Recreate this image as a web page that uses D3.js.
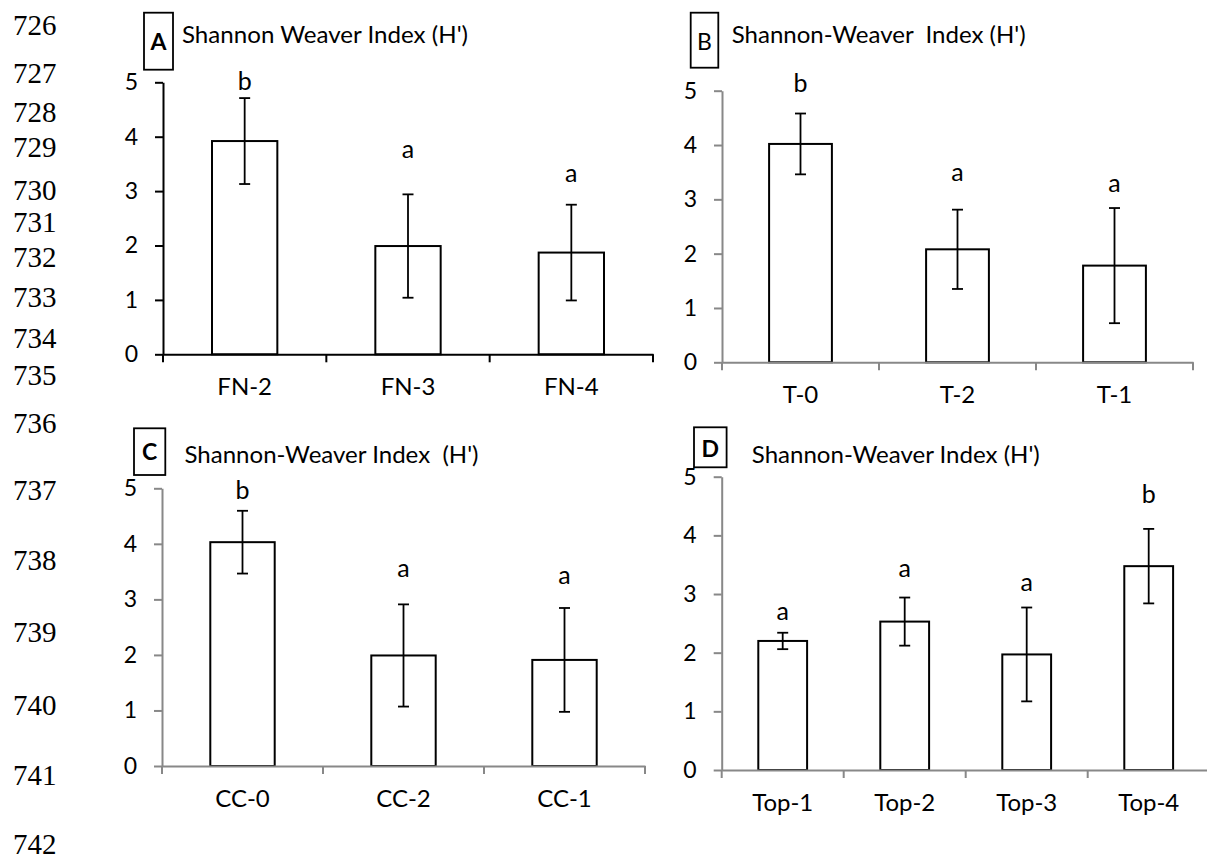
<!DOCTYPE html>
<html><head><meta charset="utf-8">
<script src="https://cdn.jsdelivr.net/npm/d3@7"></script>
<style>
body{margin:0;background:#fff}
svg{display:block}
text{font-family:Lato,"Open Sans",sans-serif}
</style>
</head><body>
<svg id="chart" width="1207" height="859"></svg>
<script>
// ---------- data ----------
const lineNumbers = [726,727,728,729,730,731,732,733,734,735,736,737,738,739,740,741,742];
const yTicks = [0,1,2,3,4,5];

const catsA = ["FN-2","FN-3","FN-4"];
const meanA = [3.92,1.99,1.87];
const errA  = [0.79,0.95,0.88];
const lettersA = ["b","a","a"];
const letterAtA = [4.86,3.60,3.17];
const titleA = "Shannon Weaver Index (H')";

const catsB = ["T-0","T-2","T-1"];
const meanB = [4.02,2.08,1.78];
const errB  = [0.56,0.73,1.06];
const lettersB = ["b","a","a"];
const letterAtB = [4.97,3.33,3.14];
const titleB = "Shannon-Weaver  Index (H')";

const catsC = ["CC-0","CC-2","CC-1"];
const meanC = [4.03,1.99,1.91];
const errC  = [0.565,0.92,0.935];
const lettersC = ["b","a","a"];
const letterAtC = [4.81,3.41,3.28];
const titleC = "Shannon-Weaver Index  (H')";

const catsD = ["Top-1","Top-2","Top-3","Top-4"];
const meanD = [2.20,2.53,1.97,3.475];
const errD  = [0.14,0.41,0.80,0.635];
const lettersD = ["a","a","a","b"];
const letterAtD = [2.56,3.29,3.06,4.56];
const titleD = "Shannon-Weaver Index (H')";

// ---------- layout ----------
const lineNumberY = [35,83,122,157,200,232,267,307,348,385,433,500,570,642,715,785,854];

const panels = [
  {tag:"A", bold:true, cats:catsA, mean:meanA, err:errA, letters:lettersA, letterAt:letterAtA, title:titleA,
   x0:163, x1:653, yt:82.3, yb:354.3, axis:"#000", box:[144,12.7,29,57], tagX:158.5, tagY:50,
   titleX:182, titleY:43.3, titleW:286},
  {tag:"B", bold:false, cats:catsB, mean:meanB, err:errB, letters:lettersB, letterAt:letterAtB, title:titleB,
   x0:722, x1:1193, yt:90.7, yb:362.3, axis:"#888", box:[690.7,12.7,27.6,55], tagX:704.5, tagY:50,
   titleX:731.7, titleY:43.3, titleW:294},
  {tag:"C", bold:true, cats:catsC, mean:meanC, err:errC, letters:lettersC, letterAt:letterAtC, title:titleC,
   x0:162, x1:645, yt:488.3, yb:766, axis:"#888", box:[134,428.3,31.3,46.7], tagX:149.6, tagY:460,
   titleX:184.5, titleY:463.3, titleW:294},
  {tag:"D", bold:true, cats:catsD, mean:meanD, err:errD, letters:lettersD, letterAt:letterAtD, title:titleD,
   x0:721.7, x1:1209.7, yt:476.7, yb:770, axis:"#888", box:[694,427.3,32.6,40], tagX:710.3, tagY:456.7,
   titleX:751.8, titleY:462.7, titleW:288}
];

const svg = d3.select("#chart");
svg.append("rect").attr("width",1207).attr("height",859).attr("fill","#fff");

// line numbers
svg.append("g").selectAll("text").data(lineNumbers).join("text")
  .attr("x",13).attr("y",(d,i)=>lineNumberY[i])
  .style("font-family","'Liberation Serif','Times New Roman',serif")
  .style("font-size","29px").attr("fill","#000")
  .text(d=>d);

const FS = 23;

panels.forEach(p=>{
  const g = svg.append("g");
  const x = d3.scaleBand().domain(p.cats).range([p.x0,p.x1]).padding(0);
  const y = d3.scaleLinear().domain([0,5]).range([p.yb,p.yt]);
  const bw = x.bandwidth()*0.4;
  const cx = d => x(d)+x.bandwidth()/2;

  // bars
  g.selectAll("rect.bar").data(p.cats).join("rect").attr("class","bar")
    .attr("x",d=>cx(d)-bw/2).attr("width",bw)
    .attr("y",(d,i)=>y(p.mean[i])).attr("height",(d,i)=>y(0)-y(p.mean[i]))
    .attr("fill","#fff").attr("stroke","#000").attr("stroke-width",2);

  // error bars
  const eb = g.selectAll("g.err").data(p.cats).join("g").attr("class","err")
    .attr("stroke","#000").attr("stroke-width",1.8);
  eb.append("line").attr("x1",cx).attr("x2",cx)
    .attr("y1",(d,i)=>y(p.mean[i]+p.err[i])).attr("y2",(d,i)=>y(p.mean[i]-p.err[i]));
  eb.append("line").attr("x1",d=>cx(d)-5.5).attr("x2",d=>cx(d)+5.5)
    .attr("y1",(d,i)=>y(p.mean[i]+p.err[i])).attr("y2",(d,i)=>y(p.mean[i]+p.err[i]));
  eb.append("line").attr("x1",d=>cx(d)-5.5).attr("x2",d=>cx(d)+5.5)
    .attr("y1",(d,i)=>y(p.mean[i]-p.err[i])).attr("y2",(d,i)=>y(p.mean[i]-p.err[i]));

  // significance letters
  g.selectAll("text.letter").data(p.cats).join("text").attr("class","letter")
    .attr("x",cx).attr("y",(d,i)=>y(p.letterAt[i]))
    .attr("text-anchor","middle").style("font-size","25px").attr("fill","#000")
    .text((d,i)=>p.letters[i]);

  // y axis
  const ya = g.append("g").attr("transform",`translate(${p.x0},0)`)
    .call(d3.axisLeft(y).tickValues(yTicks).tickFormat(d3.format("d"))
      .tickSize(8).tickPadding(17).tickSizeOuter(0));
  ya.select(".domain").attr("stroke",p.axis).attr("stroke-width",2);
  ya.selectAll(".tick line").attr("stroke",p.axis).attr("stroke-width",2);
  ya.selectAll(".tick text").style("font-size",FS+"px").style("font-family","Lato,sans-serif").attr("fill","#000");

  // x axis
  const xa = g.append("g").attr("transform",`translate(0,${p.yb})`)
    .call(d3.axisBottom(x).tickSize(0).tickSizeOuter(0));
  xa.select(".domain").attr("stroke",p.axis).attr("stroke-width",2);
  xa.selectAll(".tick text").attr("y",41).attr("dy",null)
    .style("font-size","24px").style("font-family","Lato,sans-serif").attr("fill","#000");
  const bounds = p.cats.map(d=>x(d)).concat([x.range()[1]]);
  xa.selectAll("line.bound").data(bounds).join("line").attr("class","bound")
    .attr("x1",d=>d).attr("x2",d=>d).attr("y1",0).attr("y2",8)
    .attr("stroke",p.axis).attr("stroke-width",2);

  // tag box + title
  g.append("rect").attr("x",p.box[0]).attr("y",p.box[1]).attr("width",p.box[2]).attr("height",p.box[3])
    .attr("fill","#fff").attr("stroke","#000").attr("stroke-width",1.8);
  g.append("text").attr("x",p.tagX).attr("y",p.tagY).attr("text-anchor","middle")
    .style("font-size","23px").style("font-weight",p.bold?"bold":"normal").attr("fill","#000").text(p.tag);
  g.append("text").attr("x",p.titleX).attr("y",p.titleY)
    .attr("textLength",p.titleW).attr("lengthAdjust","spacingAndGlyphs")
    .style("font-size","23px").style("white-space","pre").attr("fill","#000").text(p.title);
});
</script>
</body></html>
